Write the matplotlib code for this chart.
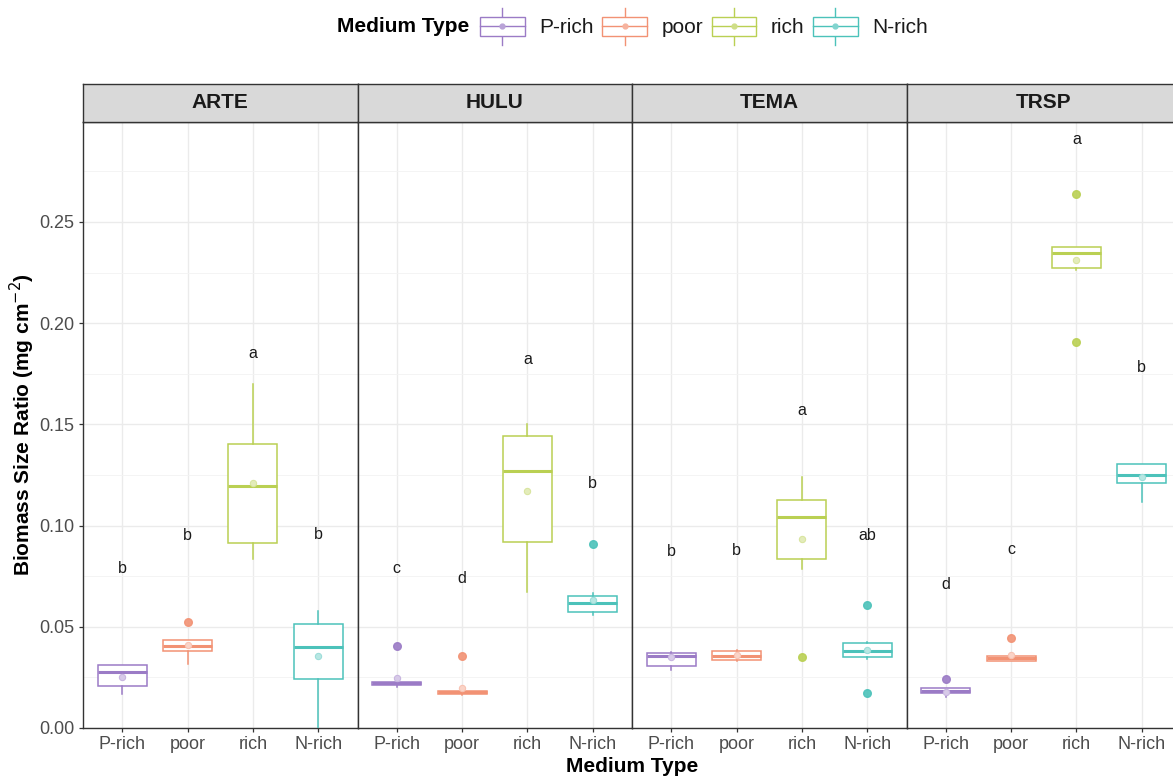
import numpy as np
import matplotlib
matplotlib.use("Agg")
import matplotlib.pyplot as plt
from matplotlib.patches import Rectangle, Patch
from matplotlib.lines import Line2D
from matplotlib.legend_handler import HandlerBase
from matplotlib.ticker import MultipleLocator

plt.rcParams['font.family'] = ['Liberation Sans', 'DejaVu Sans']

species = ["ARTE", "HULU", "TEMA", "TRSP"]
media = ["P-rich", "poor", "rich", "N-rich"]
colors = ["#9B7BC6", "#F29274", "#BAD053", "#4CC2BA"]

# box statistics, one row per species, columns follow media
whislo = [[0.0166, 0.0316, 0.0836, 0.0000],
          [0.0204, 0.0165, 0.0673, 0.0558],
          [0.0287, 0.0333, 0.0784, 0.0340],
          [0.0152, 0.0331, 0.2265, 0.1117]]
q1 = [[0.0206, 0.0382, 0.0913, 0.0243],
      [0.0212, 0.0168, 0.0920, 0.0571],
      [0.0306, 0.0336, 0.0833, 0.0352],
      [0.0171, 0.0331, 0.2273, 0.1210]]
med = [[0.0276, 0.0405, 0.1196, 0.0400],
       [0.0221, 0.0178, 0.1270, 0.0616],
       [0.0356, 0.0358, 0.1044, 0.0382],
       [0.0183, 0.0344, 0.2347, 0.1250]]
q3 = [[0.0309, 0.0433, 0.1404, 0.0515],
      [0.0226, 0.0185, 0.1444, 0.0652],
      [0.0372, 0.0382, 0.1126, 0.0418],
      [0.0196, 0.0356, 0.2376, 0.1304]]
whishi = [[0.0309, 0.0433, 0.1700, 0.0577],
          [0.0228, 0.0204, 0.1500, 0.0667],
          [0.0375, 0.0385, 0.1239, 0.0425],
          [0.0196, 0.0372, 0.2376, 0.1304]]
means = [[0.0254, 0.0412, 0.1210, 0.0354],
         [0.0249, 0.0200, 0.1170, 0.0630],
         [0.0350, 0.0360, 0.0932, 0.0385],
         [0.0180, 0.0360, 0.2310, 0.1240]]
fliers = [[[], [0.0522], [], []],
          [[0.0405], [0.0356], [], [0.0907]],
          [[], [], [0.0352], [0.0606, 0.0175]],
          [[0.0241], [0.0443], [0.2638, 0.1907], []]]
letters = [["b", "b", "a", "b"],
           ["c", "d", "a", "b"],
           ["b", "b", "a", "ab"],
           ["d", "c", "a", "b"]]
letter_y = [[0.079, 0.095, 0.185, 0.0957],
            [0.079, 0.074, 0.182, 0.121],
            [0.0871, 0.0876, 0.157, 0.0949],
            [0.071, 0.0884, 0.291, 0.178]]


def lighten(c, f=0.5):
    rgb = np.array(matplotlib.colors.to_rgb(c))
    return tuple(rgb + (1 - rgb) * f)


class HandlerBox(HandlerBase):
    def create_artists(self, legend, orig_handle, xdescent, ydescent,
                       width, height, fontsize, trans):
        c = orig_handle.get_edgecolor()
        x0, y0 = -xdescent, -ydescent
        cx, cy = x0 + width / 2, y0 + height / 2
        box = Rectangle((x0, y0), width, height, facecolor="white",
                        edgecolor=c, lw=1.0, transform=trans)
        wh1 = Line2D([cx, cx], [y0 + height, y0 + height * 1.45], color=c, lw=1.0, transform=trans)
        wh2 = Line2D([cx, cx], [y0, y0 - height * 0.45], color=c, lw=1.0, transform=trans)
        md = Line2D([x0, x0 + width], [cy, cy], color=c, lw=1.0, transform=trans)
        dot = Line2D([cx], [cy], marker="o", ms=3.5, color=lighten(c, 0.3), transform=trans)
        return [wh1, wh2, box, md, dot]


W, H = 1173, 778
fig = plt.figure(figsize=(W / 100, H / 100), dpi=100)

left0, pw = 83, 274.5
top, bottom, strip_top = 122, 728, 84
border = "#333333"
pos = np.arange(1, 5)

for i, sp in enumerate(species):
    ax = fig.add_axes([(left0 + i * pw) / W, (H - bottom) / H, pw / W, (bottom - top) / H])
    for j, m in enumerate(media):
        st = dict(whislo=whislo[i][j], q1=q1[i][j], med=med[i][j], q3=q3[i][j],
                  whishi=whishi[i][j], fliers=fliers[i][j])
        c = colors[j]
        ax.bxp([st], positions=[pos[j]], widths=0.75, patch_artist=True, showcaps=False,
               boxprops=dict(facecolor="white", edgecolor=c, lw=1.1),
               medianprops=dict(color=c, lw=2.2),
               whiskerprops=dict(color=c, lw=1.1),
               flierprops=dict(marker="o", markersize=5.5, markerfacecolor=c,
                               markeredgecolor=c, alpha=0.9), zorder=3)
        ax.plot(pos[j], means[i][j], "o", ms=4.5, mfc=lighten(c, 0.6),
                mec=lighten(c, 0.45), mew=0.8, zorder=4)
        ax.text(pos[j], letter_y[i][j], letters[i][j], ha="center", va="center",
                fontsize=11.5, color="#1A1A1A")
    ax.set_xlim(0.4, 4.6)
    ax.set_ylim(0, 0.2994)
    ax.set_xticks(pos)
    ax.set_xticklabels(media, fontsize=13, color="#4D4D4D")
    ax.yaxis.set_major_locator(MultipleLocator(0.05))
    ax.yaxis.set_minor_locator(MultipleLocator(0.025))
    ax.grid(True, which="major", color="#EBEBEB", lw=1.0)
    ax.grid(True, which="minor", axis="y", color="#F3F3F3", lw=0.6)
    ax.set_axisbelow(True)
    ax.tick_params(axis="x", length=3, width=0.9, color=border, pad=3)
    ax.tick_params(axis="y", which="minor", length=0)
    if i == 0:
        ax.set_yticklabels([f"{v:.2f}" for v in ax.get_yticks()], fontsize=13, color="#4D4D4D")
        ax.tick_params(axis="y", which="major", length=3, width=0.9, color=border, pad=3)
        ax.set_ylabel(r"Biomass Size Ratio (mg cm$^{-2}$)", fontsize=15, fontweight="bold",
                      labelpad=2)
    else:
        ax.tick_params(axis="y", which="both", length=0, labelleft=False)
    for s in ax.spines.values():
        s.set_color(border)
        s.set_linewidth(1.0)
    sax = fig.add_axes([(left0 + i * pw) / W, (H - top) / H, pw / W, (top - strip_top) / H])
    sax.set_facecolor("#D9D9D9")
    sax.set_xticks([])
    sax.set_yticks([])
    for s in sax.spines.values():
        s.set_color(border)
        s.set_linewidth(1.0)
    sax.text(0.5, 0.5, sp, ha="center", va="center", fontsize=15, fontweight="bold",
             color="#1A1A1A", transform=sax.transAxes)

fig.text(632 / W, 1 - 767 / H, "Medium Type", ha="center", va="center",
         fontsize=15, fontweight="bold")

handles = [Patch(facecolor="white", edgecolor=c) for c in colors]
fig.text(337 / W, 1 - 27 / H, "Medium Type", ha="left", va="center",
         fontsize=15, fontweight="bold")
fig.legend(handles, media, handler_map={Patch: HandlerBox()}, loc="center left",
           bbox_to_anchor=(480 / W, 1 - 27 / H), ncol=4, frameon=False, fontsize=15,
           handlelength=2.15, handleheight=1.05, handletextpad=0.7, columnspacing=0.4,
           labelcolor="#1A1A1A", borderaxespad=0, borderpad=0)

fig.savefig("out.png", dpi=100)
